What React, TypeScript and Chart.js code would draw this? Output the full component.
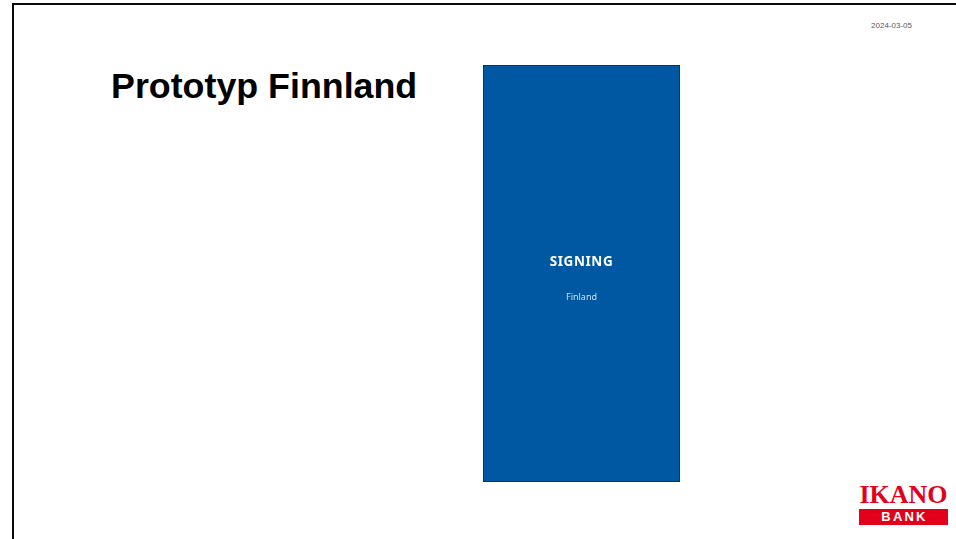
import React, { useEffect, useRef } from "react";
import { Chart, registerables } from "chart.js";

Chart.register(...registerables);

const categories = ["Finland"];
const seriesName = "SIGNING";
const seriesValues = [1];
const slideTitle = "Prototyp Finnland";
const slideDate = "2024-03-05";

export default function App() {
  const ref = useRef<HTMLCanvasElement | null>(null);

  useEffect(() => {
    if (!ref.current) return;
    const chart = new Chart(ref.current, {
      type: "bar",
      data: {
        labels: categories,
        datasets: [
          {
            label: seriesName,
            data: seriesValues,
            backgroundColor: "#0058A3",
            borderColor: "#15263d",
            borderWidth: 1,
            borderSkipped: false,
            barPercentage: 1,
            categoryPercentage: 1,
          },
        ],
      },
      options: {
        animation: false,
        responsive: true,
        maintainAspectRatio: false,
        layout: { padding: 0 },
        plugins: { legend: { display: false }, tooltip: { enabled: false }, title: { display: false } },
        scales: {
          x: { display: false },
          y: { display: false, min: 0, max: 1 },
        },
      },
    });
    return () => chart.destroy();
  }, []);

  const abs = (s: React.CSSProperties): React.CSSProperties => ({ position: "absolute", ...s });

  return (
    <div
      style={{
        position: "fixed",
        left: 0,
        top: 0,
        width: 956,
        height: 539,
        overflow: "hidden",
        background: "#fff",
        fontFamily: "'Liberation Sans', Arial, sans-serif",
      }}
    >
      <div
        style={abs({
          left: 12,
          top: 3,
          width: 1000,
          height: 600,
          borderLeft: "2.5px solid #0a0a0a",
          borderTop: "2.5px solid #0a0a0a",
          boxSizing: "border-box",
        })}
      />
      <div
        style={abs({
          right: 44,
          top: 20,
          fontSize: 8,
          lineHeight: "12px",
          color: "#595959",
        })}
      >
        {slideDate}
      </div>
      <div
        style={abs({
          left: 111,
          top: 66,
          fontSize: 35.8,
          lineHeight: "40px",
          fontWeight: 700,
          color: "#000",
          whiteSpace: "nowrap",
        })}
      >
        {slideTitle}
      </div>
      <div style={abs({ left: 483, top: 65, width: 197, height: 417 })}>
        <canvas ref={ref} />
      </div>
      <div
        style={abs({
          left: 483,
          width: 197,
          top: 252,
          textAlign: "center",
          fontFamily: "'Noto Sans', sans-serif",
          fontWeight: 700,
          fontSize: 13.5,
          lineHeight: "18px",
          letterSpacing: 0.6,
          color: "#fff",
        })}
      >
        {seriesName}
      </div>
      <div
        style={abs({
          left: 483,
          width: 197,
          top: 290,
          textAlign: "center",
          fontFamily: "'Noto Sans', sans-serif",
          fontSize: 9,
          lineHeight: "14px",
          color: "#d6deec",
        })}
      >
        {categories[0]}
      </div>
      <div
        style={abs({
          left: 859,
          top: 482.7,
          width: 89,
          textAlign: "center",
          fontFamily: "'Liberation Serif', 'Times New Roman', serif",
          fontWeight: 700,
          fontSize: 26,
          lineHeight: "24px",
          color: "#E2001A",
          whiteSpace: "nowrap",
        })}
      >
        IKANO
      </div>
      <div
        style={abs({
          left: 859,
          top: 509,
          width: 89,
          height: 16,
          background: "#E2001A",
          color: "#fff",
          textAlign: "center",
          fontWeight: 700,
          fontSize: 13,
          lineHeight: "16px",
          letterSpacing: 2.2,
          paddingLeft: 2,
          boxSizing: "border-box",
        })}
      >
        BANK
      </div>
    </div>
  );
}
